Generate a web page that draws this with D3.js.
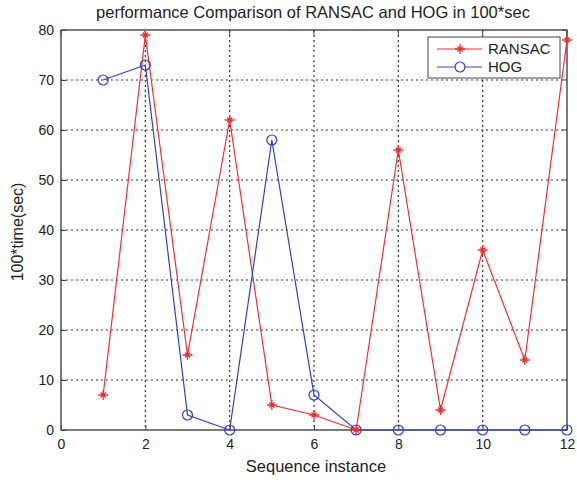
<!DOCTYPE html>
<html><head><meta charset="utf-8">
<script src="https://cdn.jsdelivr.net/npm/d3@7"></script>
<style>body{margin:0;background:#fff}text{font-family:"Liberation Sans",Arial,sans-serif;fill:#222}</style>
</head><body><svg id="c" width="577" height="480"></svg>
<script>
const xVals=[1,2,3,4,5,6,7,8,9,10,11,12];
const ransac=[7,79,15,62,5,3,0,56,4,36,14,78];
const hog=[70,73,3,0,58,7,0,0,0,0,0,0];
const xTicks=[0,2,4,6,8,10,12];
const yTicks=[0,10,20,30,40,50,60,70,80];
const svg=d3.select("#c");
const L=61,R=567,T=30,B=430;
const x=d3.scaleLinear().domain([0,12]).range([L,R]);
const y=d3.scaleLinear().domain([0,80]).range([B,T]);
svg.append("rect").attr("x",L).attr("y",T).attr("width",R-L).attr("height",B-T).attr("fill","#fff");
// grid
svg.append("g").selectAll("line").data(xTicks.slice(1,-1)).join("line")
 .attr("x1",d=>x(d)).attr("x2",d=>x(d)).attr("y1",T).attr("y2",B)
 .attr("stroke","#333").attr("stroke-dasharray","2,3").attr("stroke-width",1.2);
svg.append("g").selectAll("line").data(yTicks.slice(1,-1)).join("line")
 .attr("y1",d=>y(d)).attr("y2",d=>y(d)).attr("x1",L).attr("x2",R)
 .attr("stroke","#333").attr("stroke-dasharray","2,3").attr("stroke-width",1.2);
svg.append("rect").attr("x",L).attr("y",T).attr("width",R-L).attr("height",B-T).attr("fill","none").attr("stroke","#444").attr("stroke-width",1.4);
const xa=svg.append("g").attr("transform",`translate(0,${B})`).call(d3.axisBottom(x).tickValues(xTicks).tickSize(-5).tickPadding(9));
const ya=svg.append("g").attr("transform",`translate(${L},0)`).call(d3.axisLeft(y).tickValues(yTicks).tickSize(-5).tickPadding(7));
[xa,ya].forEach(a=>{a.select(".domain").remove();a.selectAll(".tick line").attr("stroke","#444");a.selectAll("text").attr("font-size",14).attr("fill","#222").attr("font-family","Liberation Sans, Arial, sans-serif");});
// top/right ticks
svg.append("g").selectAll("line").data(xTicks).join("line").attr("x1",d=>x(d)).attr("x2",d=>x(d)).attr("y1",T).attr("y2",T+5).attr("stroke","#444");
svg.append("g").selectAll("line").data(yTicks).join("line").attr("y1",d=>y(d)).attr("y2",d=>y(d)).attr("x1",R).attr("x2",R-5).attr("stroke","#444");
const line=d3.line().x((d,i)=>x(xVals[i])).y(d=>y(d));
svg.append("path").datum(ransac).attr("d",line).attr("fill","none").attr("stroke","#f03030").attr("stroke-width",1.2);
svg.append("path").datum(hog).attr("d",line).attr("fill","none").attr("stroke","#3040c0").attr("stroke-width",1.2);
const star=(g,cx,cy,col)=>{const s=5;g.append("path").attr("d",`M${cx-s},${cy}H${cx+s}M${cx},${cy-s}V${cy+s}M${cx-2.5},${cy-2.5}L${cx+2.5},${cy+2.5}M${cx-2.5},${cy+2.5}L${cx+2.5},${cy-2.5}`).attr("stroke",col).attr("stroke-width",1.3);};
const rg=svg.append("g");
ransac.forEach((d,i)=>star(rg,x(xVals[i]),y(d),"#f03030"));
svg.append("g").selectAll("circle").data(hog).join("circle").attr("cx",(d,i)=>x(xVals[i])).attr("cy",d=>y(d)).attr("r",5).attr("fill","none").attr("stroke","#3040c0").attr("stroke-width",1.2);
// legend
const lg=svg.append("g");
lg.append("rect").attr("x",428).attr("y",37).attr("width",132).attr("height",41).attr("fill","#fff").attr("stroke","#444").attr("stroke-width",1);
lg.append("line").attr("x1",437).attr("x2",482).attr("y1",49).attr("y2",49).attr("stroke","#f03030").attr("stroke-width",1.2);
star(lg,460,49,"#f03030");
lg.append("text").attr("x",488).attr("y",54).attr("font-size",15).text("RANSAC");
lg.append("line").attr("x1",437).attr("x2",482).attr("y1",67).attr("y2",67).attr("stroke","#3040c0").attr("stroke-width",1.2);
lg.append("circle").attr("cx",460).attr("cy",67).attr("r",5).attr("fill","#fff").attr("stroke","#3040c0").attr("stroke-width",1.2);
lg.append("text").attr("x",488).attr("y",72).attr("font-size",15).text("HOG");
svg.append("text").attr("x",313).attr("y",18).attr("text-anchor","middle").attr("font-size",16.5).text("performance Comparison of RANSAC and HOG in 100*sec");
svg.append("text").attr("x",316).attr("y",472).attr("text-anchor","middle").attr("font-size",16.5).text("Sequence instance");
svg.append("text").attr("transform","translate(23,232) rotate(-90)").attr("text-anchor","middle").attr("font-size",16).text("100*time(sec)");
</script></body></html>
